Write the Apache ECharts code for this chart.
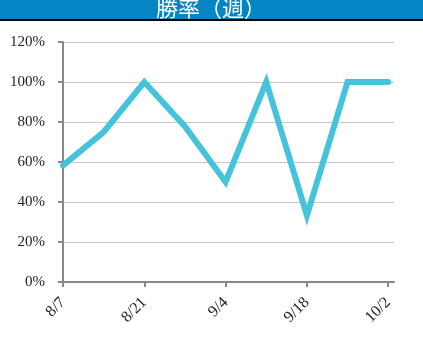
<!DOCTYPE html>
<html><head><meta charset="utf-8">
<script src="https://cdn.jsdelivr.net/npm/echarts@6/dist/echarts.min.js"></script>
<style>html,body{margin:0;padding:0;background:#fff}#c{width:423px;height:341px}</style>
</head><body><div id="c"></div>
<script>
const titleText = '勝率（週）';
const dates = ['8/7','8/14','8/21','8/28','9/4','9/11','9/18','9/25','10/2'];
const winRate = [58.3, 75, 100, 77.8, 50, 100, 33.3, 100, 100];
const xTickDays = [0, 14, 28, 42, 56];
const yTicks = [0, 20, 40, 60, 80, 100, 120];

const dayOf = i => i * 7;
const labelFor = d => dates[d / 7] || '';
const chart = echarts.init(document.getElementById('c'));
const serif = '"Liberation Serif", "DejaVu Serif", serif';
chart.setOption({
  animation: false,
  graphic: [
    {type: 'rect', shape: {x: 0, y: 0, width: 423, height: 19}, style: {fill: '#0685c5'}},
    {type: 'rect', shape: {x: 0, y: 19, width: 423, height: 2}, style: {fill: '#000'}},
    {type: 'text', x: 211, y: 8, style: {text: titleText, fill: '#fff', font: '22px "Noto Sans CJK JP", serif', align: 'center', verticalAlign: 'middle'}}
  ],
  grid: {left: 63, right: 29, top: 42, bottom: 59, containLabel: false},
  xAxis: {
    type: 'value', min: 0, max: 57,
    splitLine: {show: false},
    axisLine: {lineStyle: {color: '#888', width: 2}},
    axisTick: {show: true, customValues: xTickDays, length: 5, lineStyle: {color: '#888', width: 2}},
    axisLabel: {customValues: xTickDays, formatter: v => labelFor(v), rotate: 45, margin: 18, color: '#222', fontFamily: serif, fontSize: 16}
  },
  yAxis: {
    type: 'value', min: 0, max: 120, interval: 20,
    axisLine: {show: true, lineStyle: {color: '#888', width: 2}},
    axisTick: {show: true, inside: false, length: 5, lineStyle: {color: '#888', width: 2}},
    splitLine: {lineStyle: {color: '#c8c8c8', width: 1}},
    axisLabel: {formatter: v => v + '%', color: '#222', fontFamily: serif, fontSize: 15, margin: 18}
  },
  series: [{
    type: 'line',
    data: winRate.map((v, i) => [dayOf(i), v]),
    symbol: 'none',
    lineStyle: {color: '#46c3dc', width: 6, cap: 'round', join: 'miter'},
    clip: false
  }]
});
</script></body></html>
